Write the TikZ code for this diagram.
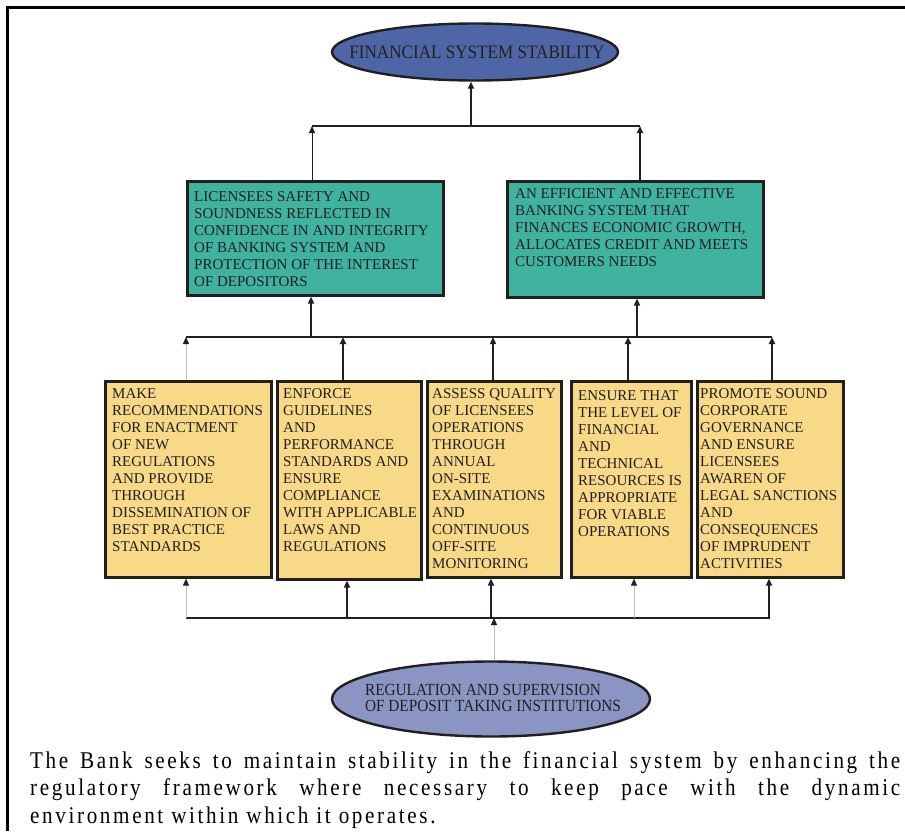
\documentclass[tikz,border=0pt]{standalone}
\usepackage{fontspec}
\setmainfont{Liberation Serif}
\newfontfamily\condfont{Liberation Serif}[FakeStretch=0.9]
\newfontfamily\bodyfont{Liberation Serif}[FakeStretch=0.88,LetterSpace=11]
\usetikzlibrary{arrows.meta,shapes.geometric}
\definecolor{linec}{RGB}{35,31,32}
\definecolor{thinc}{RGB}{190,190,190}
\definecolor{topblue}{RGB}{79,102,166}
\definecolor{tealc}{RGB}{64,178,160}
\definecolor{yellowc}{RGB}{248,217,135}
\definecolor{botblue}{RGB}{138,149,196}
\tikzset{
  conn/.style={draw=linec, line width=2.4pt},
  thinconn/.style={draw=thinc, line width=1pt},
  midconn/.style={draw=linec, line width=1.3pt},
  tipped/.style={-{Triangle[length=7pt,width=6pt,color=linec]}},
  tbox/.style={draw=linec, line width=2.6pt, fill=tealc, rectangle, anchor=north west, inner sep=0pt},
  ybox/.style={draw=linec, line width=2.6pt, fill=yellowc, rectangle, anchor=north west, inner sep=0pt},
  boxtext/.style={anchor=north west, align=left, inner sep=0pt, text=linec, font=\fontsize{15}{17}\selectfont},
  ell/.style={ellipse, draw=linec, line width=2.4pt, inner sep=0pt},
  elltext/.style={inner sep=0pt, text=linec, align=left}
}
\begin{document}
\begin{tikzpicture}[x=1pt,y=-1pt]
\useasboundingbox (0,0) rectangle (905,831);
% frame
\draw[line width=3pt, black] (7,831) -- (7,7) -- (905,7);

% top ellipse
\node[ell, fill=topblue, minimum width=286pt, minimum height=57pt] (top) at (475,52) {};
\node[elltext, font=\condfont\fontsize{19}{20}\selectfont] (topt) at (477,52) {FINANCIAL SYSTEM STABILITY};

% teal boxes
\node[tbox, minimum width=256pt, minimum height=114pt] (tl) at (186,180) {};
\node[tbox, minimum width=256pt, minimum height=116pt] (tr) at (506,180) {};
\node[boxtext] (tlt) at (194,191) {LICENSEES SAFETY AND\\SOUNDNESS REFLECTED IN\\CONFIDENCE IN AND INTEGRITY\\OF BANKING SYSTEM AND\\PROTECTION OF THE INTEREST\\OF DEPOSITORS};
\node[boxtext] (trt) at (515,188) {AN EFFICIENT AND EFFECTIVE\\BANKING SYSTEM THAT\\FINANCES ECONOMIC GROWTH,\\ALLOCATES CREDIT AND MEETS\\CUSTOMERS NEEDS};

% yellow boxes
\node[ybox, minimum width=166pt, minimum height=196pt] (b1) at (104,380) {};
\node[ybox, minimum width=144pt, minimum height=198pt] (b2) at (276,380) {};
\node[ybox, minimum width=134pt, minimum height=196pt] (b3) at (426,380) {};
\node[ybox, minimum width=120pt, minimum height=196pt] (b4) at (570,380) {};
\node[ybox, minimum width=146pt, minimum height=196pt] (b5) at (696,380) {};
\node[boxtext] (b1t) at (112,388) {MAKE\\RECOMMENDATIONS\\FOR ENACTMENT\\OF NEW\\REGULATIONS\\AND PROVIDE\\THROUGH\\DISSEMINATION OF\\BEST PRACTICE\\STANDARDS};
\node[boxtext] (b2t) at (283,388) {ENFORCE\\GUIDELINES\\AND\\PERFORMANCE\\STANDARDS AND\\ENSURE\\COMPLIANCE\\WITH APPLICABLE\\LAWS AND\\REGULATIONS};
\node[boxtext] (b3t) at (432,388) {ASSESS QUALITY\\OF LICENSEES\\OPERATIONS\\THROUGH\\ANNUAL\\ON-SITE\\EXAMINATIONS\\AND\\CONTINUOUS\\OFF-SITE\\MONITORING};
\node[boxtext] (b4t) at (578,390) {ENSURE THAT\\THE LEVEL OF\\FINANCIAL\\AND\\TECHNICAL\\RESOURCES IS\\APPROPRIATE\\FOR VIABLE\\OPERATIONS};
\node[boxtext] (b5t) at (700,388) {PROMOTE SOUND\\CORPORATE\\GOVERNANCE\\AND ENSURE\\LICENSEES\\AWAREN OF\\LEGAL SANCTIONS\\AND\\CONSEQUENCES\\OF IMPRUDENT\\ACTIVITIES};

% bottom ellipse
\node[ell, fill=botblue, minimum width=318pt, minimum height=75pt] (bot) at (491,699) {};
\node[elltext, font=\condfont\fontsize{17}{16}\selectfont] (bott) at (493,698) {REGULATION AND SUPERVISION\\OF DEPOSIT TAKING INSTITUTIONS};

% bus coordinates
\coordinate (l1a) at (312,126);
\coordinate (l1b) at (640,126);
\coordinate (l1m) at (471,126);
\coordinate (l2a) at (186,337);
\coordinate (l2b) at (772,337);
\coordinate (l2t1) at (311,337);
\coordinate (l2t2) at (637,337);
\coordinate (u1) at (186,337);
\coordinate (u2) at (343,337);
\coordinate (u3) at (493,337);
\coordinate (u4) at (628,337);
\coordinate (u5) at (772,337);
\coordinate (l3a) at (186,618);
\coordinate (l3b) at (770,618);
\coordinate (d1) at (186,618);
\coordinate (d2) at (347,618);
\coordinate (d3) at (491,618);
\coordinate (d4) at (634,618);
\coordinate (d5) at (769,618);
\coordinate (dm) at (494,618);

% top bus
\draw[conn] (l1a) -- (l1b);
\draw[conn, tipped] (l1m) -- (top.south -| l1m);
\draw[midconn, line width=1pt, tipped] (tl.north -| l1a) -- (l1a);
\draw[conn, tipped] (tr.north -| l1b) -- (l1b);

% middle bus
\draw[conn] (l2a) -- (l2b);
\draw[conn, tipped] (l2t1) -- (tl.south -| l2t1);
\draw[conn, tipped] (l2t2) -- (tr.south -| l2t2);
\draw[thinconn, tipped] (b1.north -| u1) -- (u1);
\draw[conn, tipped] (b2.north -| u2) -- (u2);
\draw[midconn, tipped] (b3.north -| u3) -- (u3);
\draw[conn, tipped] (b4.north -| u4) -- (u4);
\draw[conn, tipped] (b5.north -| u5) -- (u5);

% bottom bus
\draw[conn] (l3a) -- (l3b);
\draw[thinconn, tipped] (d1) -- (b1.south -| d1);
\draw[conn, tipped] (d2) -- (b2.south -| d2);
\draw[conn, tipped] (d3) -- (b3.south -| d3);
\draw[thinconn, tipped] (d4) -- (b4.south -| d4);
\draw[conn, tipped] (d5) -- (b5.south -| d5);
\draw[thinconn, tipped] (bot.north -| dm) -- (dm);

% paragraph
\node[anchor=north west, align=left, inner sep=0pt, font=\bodyfont\fontsize{24}{27.5}\selectfont] (para) at (30,751)
{\makebox[870pt][s]{The Bank seeks to maintain stability in the financial system by enhancing the}\\
\makebox[870pt][s]{regulatory framework where necessary to keep pace with the dynamic}\\
environment within which it operates.};
\end{tikzpicture}
\end{document}
